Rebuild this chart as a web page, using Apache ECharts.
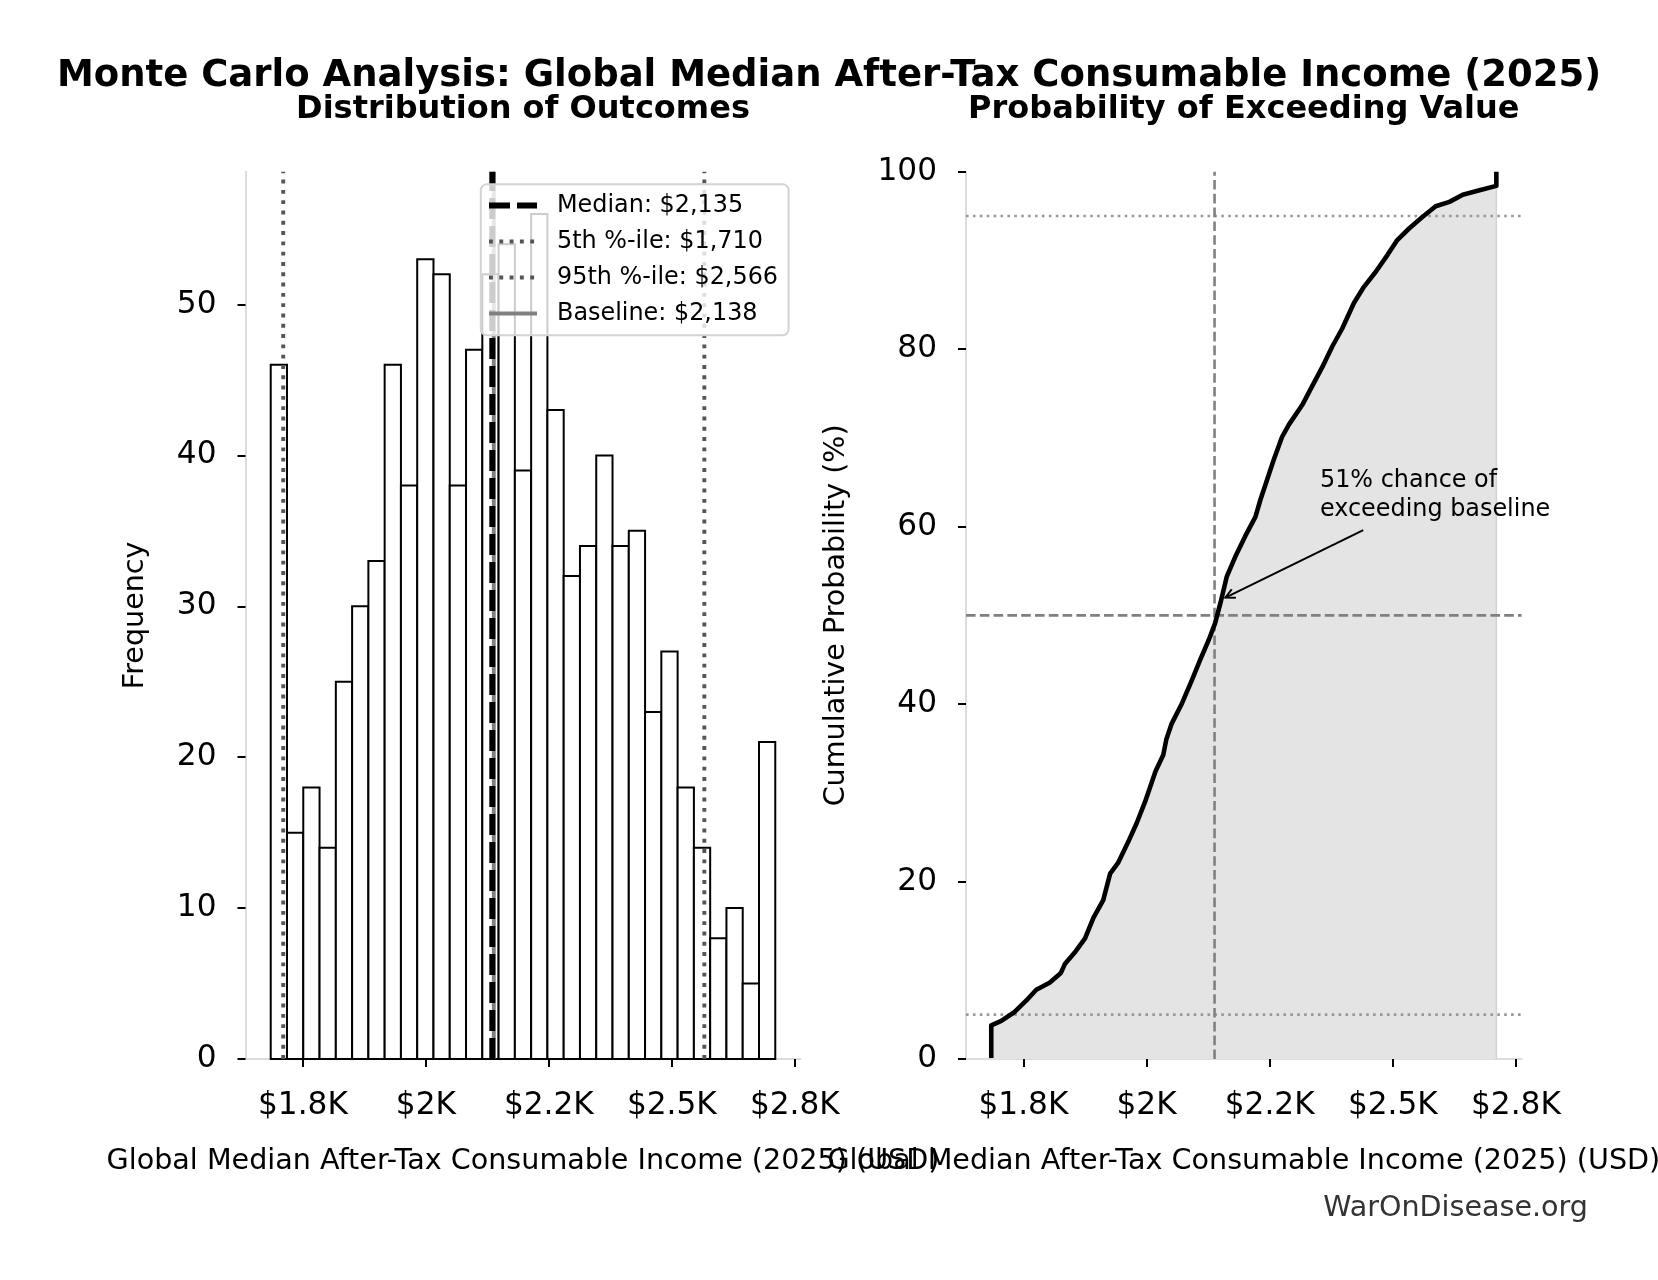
<!DOCTYPE html>
<html>
<head>
<meta charset="utf-8">
<script src="https://cdn.jsdelivr.net/npm/echarts@6/dist/echarts.min.js"></script>
<style>
html,body{margin:0;padding:0;background:#ffffff;}
#chart{width:1658px;height:1280px;}
</style>
</head>
<body>
<div id="chart"></div>
<script>
// ---------------- data ----------------
const histMin = 1684.6;
const histMax = 2710.2;
const histCounts = [46,15,18,14,25,30,33,46,38,53,52,38,47,52,54,39,56,43,32,34,40,34,35,23,27,18,14,8,10,5,21];

const cdfX = [1684.6,1684.6,1705,1732,1756,1776,1803,1826,1834,1854,1875,1892,1912,1926,1942,1963,1980,1997,2018,2034,2040,2051,2072,2092,2109,2126,2139,2150,2163,2180,2200,2221,2231,2243,2258,2275,2289,2316,2336,2357,2377,2397,2421,2441,2465,2489,2509,2533,2560,2587,2615,2642,2676,2710.2,2710.2];
const cdfP = [0.1,3.8,4.3,5.3,6.6,7.8,8.6,9.7,10.7,12.0,13.6,15.9,17.9,20.9,22.1,24.5,26.6,29.0,32.4,34.3,36.0,37.8,40.1,42.7,45.0,47.2,49.1,51.4,54.4,56.6,58.9,61.1,63.0,65.0,67.5,70.1,71.5,73.7,75.8,78.0,80.3,82.3,85.2,87.0,88.7,90.6,92.3,93.6,94.9,96.1,96.6,97.4,97.9,98.4,100];

const tickValues = [1750, 2000, 2250, 2500, 2750];
const tickLabels = ['$1.8K', '$2K', '$2.2K', '$2.5K', '$2.8K'];
const freqTicks = [0, 10, 20, 30, 40, 50];
const probTicks = [0, 20, 40, 60, 80, 100];
const probLines = { p5: 5, p50: 50, p95: 95 };

const medianVal = 2135;
const p5Val = 1710;
const p95Val = 2566;
const baselineVal = 2138;
const exceedPct = 51;

const annotTip = [2160, 52];
const annotTail = [2440, 59.6];
const annotText = [2352, 63.55];

const mainTitle = 'Monte Carlo Analysis: Global Median After-Tax Consumable Income (2025)';
const subTitles = ['Distribution of Outcomes', 'Probability of Exceeding Value'];
const xName = 'Global Median After-Tax Consumable Income (2025) (USD)';
const yNames = ['Frequency', 'Cumulative Probability (%)'];
const watermark = 'WarOnDisease.org';

// ---------------- derived ----------------
const FONT = 'DejaVu Sans';
const fmtMoney = v => '$' + v.toLocaleString('en-US');
const legendLabels = [
  'Median: ' + fmtMoney(medianVal),
  '5th %-ile: ' + fmtMoney(p5Val),
  '95th %-ile: ' + fmtMoney(p95Val),
  'Baseline: ' + fmtMoney(baselineVal)
];
const binW = (histMax - histMin) / histCounts.length;
const histData = histCounts.map((c, i) => [histMin + i * binW, histMin + (i + 1) * binW, c]);
const span = histMax - histMin;
const xMin = histMin - 0.05 * span;
const xMax = histMax + 0.05 * span;
const yMaxFreq = Math.max(...histCounts) * 1.05;
const cdfData = cdfX.map((x, i) => [x, cdfP[i]]);
const tickFmt = v => {
  for (let i = 0; i < tickValues.length; i++) if (Math.abs(tickValues[i] - v) < 1e-6) return tickLabels[i];
  return '';
};

// ---------------- layout ----------------
const G = [
  { left: 245.5, top: 171.7, width: 555, height: 887.3 },
  { left: 966, top: 171.7, width: 555.6, height: 887.3 }
];

function makeX(idx) {
  return {
    type: 'value', gridIndex: idx, min: xMin, max: xMax,
    axisLine: { show: true, onZero: false, lineStyle: { color: '#dcdcdc', width: 2 } },
    axisTick: { show: true, customValues: tickValues, length: 8, lineStyle: { color: '#000', width: 2 } },
    axisLabel: { show: true, customValues: tickValues, formatter: tickFmt, fontSize: 31.2, color: '#000', margin: 31, fontFamily: FONT },
    splitLine: { show: false },
    name: xName, nameLocation: 'middle', nameGap: 88,
    nameTextStyle: { fontSize: 28.6, color: '#000', fontFamily: FONT }
  };
}
function makeY(idx, max, ticks, name, gap) {
  return {
    type: 'value', gridIndex: idx, min: 0, max: max,
    axisLine: { show: true, onZero: false, lineStyle: { color: '#dcdcdc', width: 2 } },
    axisTick: { show: true, customValues: ticks, length: 8, lineStyle: { color: '#000', width: 2 } },
    axisLabel: { show: true, customValues: ticks, fontSize: 31.2, color: '#000', margin: 29, fontFamily: FONT, padding: [4, 0, 0, 0] },
    splitLine: { show: false },
    name: name, nameLocation: 'middle', nameGap: gap, nameRotate: 90,
    nameTextStyle: { fontSize: 28.6, color: '#000', fontFamily: FONT }
  };
}
function vline(xi, yi, x, y0, y1, color, width, type, opacity, z) {
  return {
    type: 'line', xAxisIndex: xi, yAxisIndex: yi, data: [[x, y0], [x, y1]],
    symbol: 'none', silent: true, z: z,
    lineStyle: { color: color, width: width, type: type, opacity: opacity, cap: 'butt' }
  };
}
function hline(xi, yi, y, color, width, type, opacity, z) {
  return {
    type: 'line', xAxisIndex: xi, yAxisIndex: yi, data: [[xMin, y], [xMax, y]],
    symbol: 'none', silent: true, z: z,
    lineStyle: { color: color, width: width, type: type, opacity: opacity, cap: 'butt' }
  };
}

// legend (graphic)
const lg = { x: 480.8, y: 184.3, w: 307.8, h: 151, rows: [205.5, 241.5, 277.5, 313.5], hx0: 489, hx1: 537, tx: 557 };
const legendStyles = [
  { stroke: '#000', lineWidth: 6, lineDash: [21, 7], opacity: 1 },
  { stroke: '#555', lineWidth: 3.9, lineDash: [3.9, 6.4], opacity: 1 },
  { stroke: '#555', lineWidth: 3.9, lineDash: [3.9, 6.4], opacity: 1 },
  { stroke: '#808080', lineWidth: 3.9, lineDash: null, opacity: 1 }
];
const legendEls = [{
  type: 'rect', z: 100, shape: { x: lg.x, y: lg.y, width: lg.w, height: lg.h, r: 6 },
  style: { fill: 'rgba(255,255,255,0.8)', stroke: '#d4d4d4', lineWidth: 2 }
}];
legendLabels.forEach((t, i) => {
  const st = legendStyles[i];
  legendEls.push({
    type: 'line', z: 101,
    shape: { x1: lg.hx0, y1: lg.rows[i], x2: lg.hx1, y2: lg.rows[i] },
    style: { stroke: st.stroke, lineWidth: st.lineWidth, lineDash: st.lineDash, opacity: st.opacity, lineCap: 'butt' }
  });
  legendEls.push({
    type: 'text', z: 101, x: lg.tx, y: lg.rows[i],
    style: { text: t, fontSize: 23.9, fontFamily: FONT, fill: '#000', align: 'left', verticalAlign: 'middle' }
  });
});
legendEls.push({
  type: 'text', z: 101, x: 1588, y: 1209,
  style: { text: watermark, fontSize: 28.6, fontFamily: FONT, fill: '#333333', align: 'right', verticalAlign: 'middle' }
});

const option = {
  animation: false,
  backgroundColor: '#ffffff',
  textStyle: { fontFamily: FONT },
  title: [
    { text: mainTitle, left: 829, top: 76.5, textAlign: 'center', textVerticalAlign: 'middle', padding: 0,
      textStyle: { fontSize: 37, fontWeight: 'bold', color: '#000', fontFamily: FONT } },
    { text: subTitles[0], left: G[0].left + G[0].width / 2, top: 110, textAlign: 'center', textVerticalAlign: 'middle', padding: 0,
      textStyle: { fontSize: 32, fontWeight: 'bold', color: '#000', fontFamily: FONT } },
    { text: subTitles[1], left: G[1].left + G[1].width / 2, top: 110, textAlign: 'center', textVerticalAlign: 'middle', padding: 0,
      textStyle: { fontSize: 32, fontWeight: 'bold', color: '#000', fontFamily: FONT } }
  ],
  grid: G.map(g => Object.assign({ containLabel: false, outerBoundsMode: 'none' }, g)),
  xAxis: [makeX(0), makeX(1)],
  yAxis: [makeY(0, yMaxFreq, freqTicks, yNames[0], 95), makeY(1, 100, probTicks, yNames[1], 115)],
  graphic: { elements: legendEls },
  series: [
    {
      type: 'custom', xAxisIndex: 0, yAxisIndex: 0, z: 2, silent: true,
      data: histData,
      encode: { x: [0, 1], y: 2 },
      renderItem: function (params, api) {
        const p0 = api.coord([api.value(0), api.value(2)]);
        const p1 = api.coord([api.value(1), 0]);
        return {
          type: 'rect',
          shape: { x: p0[0], y: p0[1], width: p1[0] - p0[0], height: p1[1] - p0[1] },
          style: { fill: '#ffffff', stroke: '#000000', lineWidth: 2 }
        };
      }
    },
    vline(0, 0, baselineVal, 0, yMaxFreq, '#808080', 3.9, 'solid', 1, 3),
    vline(0, 0, medianVal, 0, yMaxFreq, '#000000', 6, [21, 7], 1, 4),
    vline(0, 0, p5Val, 0, yMaxFreq, '#555555', 3.9, [3.9, 6.4], 1, 4),
    vline(0, 0, p95Val, 0, yMaxFreq, '#555555', 3.9, [3.9, 6.4], 1, 4),

    {
      type: 'line', xAxisIndex: 1, yAxisIndex: 1, data: cdfData, symbol: 'none', silent: true, z: 2,
      lineStyle: { width: 0, opacity: 0 },
      areaStyle: { color: '#e4e4e4', opacity: 1 }
    },
    vline(1, 1, cdfX[cdfX.length - 1], 0, 100, '#d2d2d2', 1.5, 'solid', 1, 3),
    hline(1, 1, probLines.p5, '#999999', 2.6, [2.6, 4.3], 1, 4),
    hline(1, 1, probLines.p95, '#999999', 2.6, [2.6, 4.3], 1, 4),
    hline(1, 1, probLines.p50, '#808080', 2.6, [9.6, 4.2], 1, 4),
    vline(1, 1, baselineVal, 0, 100, '#808080', 2.6, [9.6, 4.2], 1, 4),
    {
      type: 'line', xAxisIndex: 1, yAxisIndex: 1, data: cdfData, symbol: 'none', silent: true, z: 5,
      lineStyle: { color: '#000000', width: 4.6, join: 'round' }
    },
    {
      type: 'custom', xAxisIndex: 1, yAxisIndex: 1, z: 6, silent: true, clip: false,
      data: [[annotTip[0], annotTip[1], annotTail[0], annotTail[1], annotText[0], annotText[1]]],
      encode: { x: [0, 2, 4], y: [1, 3, 5] },
      renderItem: function (params, api) {
        const tip = api.coord([api.value(0), api.value(1)]);
        const tail = api.coord([api.value(2), api.value(3)]);
        const tp = api.coord([api.value(4), api.value(5)]);
        const dx = tail[0] - tip[0], dy = tail[1] - tip[1];
        const L = Math.hypot(dx, dy);
        const ux = dx / L, uy = dy / L;
        const hl = 9.4, hw = 4.7;
        const a1 = [tip[0] + ux * hl - uy * hw, tip[1] + uy * hl + ux * hw];
        const a2 = [tip[0] + ux * hl + uy * hw, tip[1] + uy * hl - ux * hw];
        return {
          type: 'group',
          children: [
            { type: 'line', shape: { x1: tail[0], y1: tail[1], x2: tip[0], y2: tip[1] }, style: { stroke: '#000', lineWidth: 2 } },
            { type: 'polyline', shape: { points: [a1, tip, a2] }, style: { stroke: '#000', lineWidth: 2, fill: null } },
            { type: 'text', x: tp[0], y: tp[1],
              style: { text: exceedPct + '% chance of\nexceeding baseline', fontSize: 23.9, fontFamily: FONT, fill: '#000',
                       align: 'left', verticalAlign: 'middle', lineHeight: 29 } }
          ]
        };
      }
    }
  ]
};

const chart = echarts.init(document.getElementById('chart'), null, { renderer: 'canvas' });
chart.setOption(option);
</script>
</body>
</html>
